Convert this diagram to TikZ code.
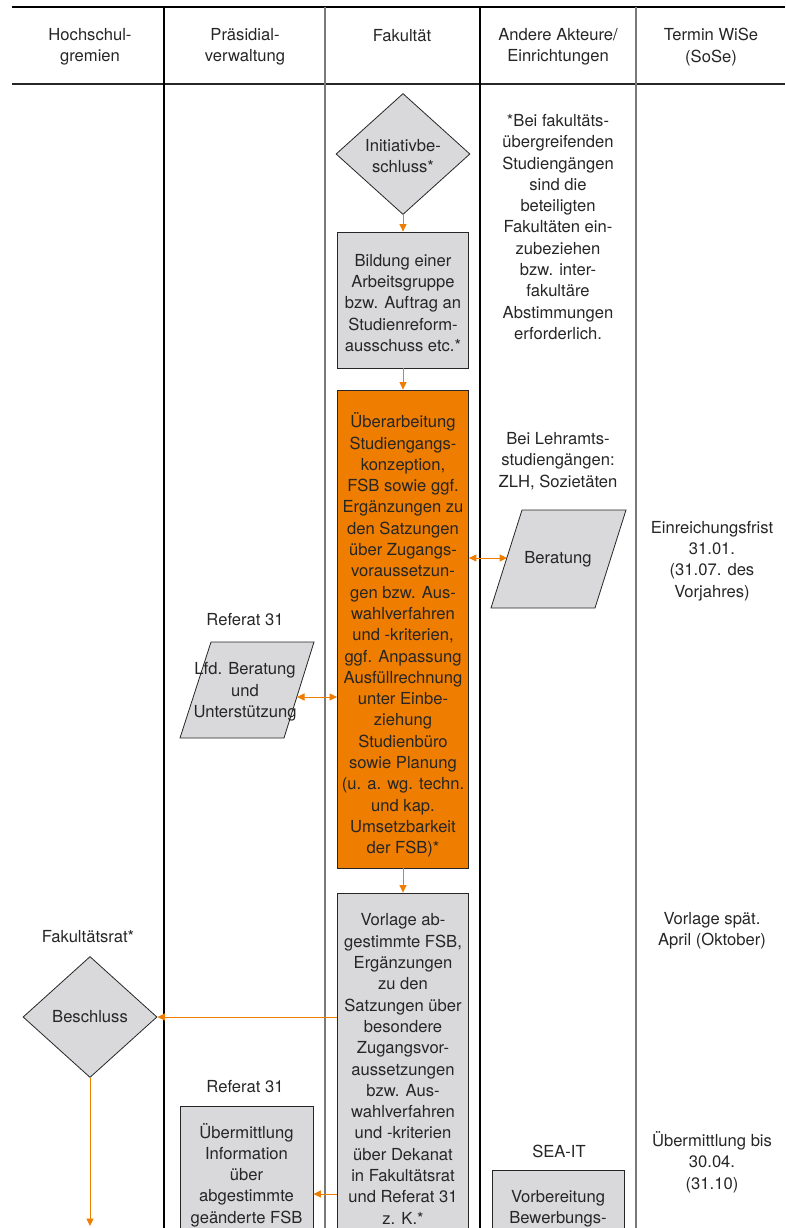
\documentclass[tikz,border=0pt]{standalone}
\usepackage{fontspec}
\setmainfont{TeX Gyre Heros}
\usetikzlibrary{arrows.meta,shapes.geometric}
\definecolor{ink}{HTML}{262626}
\definecolor{boxgray}{HTML}{D9D9DB}
\definecolor{uhhorange}{HTML}{EE7D00}
\definecolor{rulegray}{HTML}{7A7A7A}
\begin{document}
\begin{tikzpicture}[x=1pt,y=-1pt,
  every node/.style={text=ink, font=\fontsize{16.6}{21.3}\selectfont, align=center, inner sep=0pt},
  procbox/.style={draw=ink, line width=0.8pt, fill=boxgray, minimum width=131pt},
  hotbox/.style={procbox, fill=uhhorange},
  decision/.style={diamond, draw=ink, line width=0.8pt, fill=boxgray,
    minimum width=134pt, minimum height=121pt, aspect=1.1},
  io/.style={draw=ink, line width=0.8pt, fill=boxgray},
  flow/.style={draw=uhhorange, line width=1pt, -{Triangle[length=7.5pt,width=7pt]}},
  both/.style={draw=uhhorange, line width=1pt,
    {Triangle[length=7.5pt,width=7pt]}-{Triangle[length=7.5pt,width=7pt]}},
  darkrule/.style={draw=black, line width=1.2pt},
  lightrule/.style={draw=rulegray, line width=1.8pt},
]
\useasboundingbox (0,0) rectangle (785,1228);
\clip (0,0) rectangle (785,1228);

% swimlane grid
\draw[darkrule] (12,7) -- (785,7);
\draw[draw=ink, line width=1.4pt] (12,84) -- (785,84);
\draw[darkrule] (164,7) -- (164,1228);
\draw[lightrule] (325,7) -- (325,1228);
\draw[darkrule] (480,7) -- (480,1228);
\draw[lightrule] (636,7) -- (636,1228);

% lane headings
\node (h1) at (90,47) {Hochschul-\\gremien};
\node (h2) at (245,47) {Präsidial-\\verwaltung};
\node (h3) at (402,36) {Fakultät};
\node (h4) at (558,47) {Andere Akteure/\\Einrichtungen};
\node (h5) at (711,47) {Termin WiSe\\(SoSe)};

% Fakultaet lane
\node[decision, label={[yshift=-2pt]center:{Initiativbe-\\schluss*}}] (init) at (403,154) {};
\node[procbox, minimum height=136pt,
  label={[yshift=-3pt]center:{Bildung einer\\Arbeitsgruppe\\bzw. Auftrag an\\Studienreform-\\ausschuss etc.*}}]
  (ag) at (403,300) {};
\node[hotbox, minimum height=478pt,
  label={[yshift=-6pt]center:{Überarbeitung\\Studiengangs-\\konzeption,\\FSB sowie ggf.\\Ergänzungen zu\\den Satzungen\\über Zugangs-\\voraussetzun-\\gen bzw. Aus-\\wahlverfahren\\und -kriterien,\\ggf. Anpassung\\Ausfüllrechnung\\unter Einbe-\\ziehung\\Studienbüro\\sowie Planung\\(u. a. wg. techn.\\und kap.\\Umsetzbarkeit\\der FSB)*}}]
  (ueb) at (403,629) {};
\node[procbox, minimum height=344pt,
  label={[yshift=-4pt]center:{Vorlage ab-\\gestimmte FSB,\\Ergänzungen\\zu den\\Satzungen über\\besondere\\Zugangsvor-\\aussetzungen\\bzw. Aus-\\wahlverfahren\\und -kriterien\\über Dekanat\\in Fakultätsrat\\und Referat 31\\z. K.*}}]
  (vorl) at (403,1065) {};
\draw[flow] (init.south) -- (ag.north);
\draw[flow] (ag.south) -- (ueb.north);
\draw[flow] (ueb.south) -- (vorl.north);

% other actors lane
\node (note) at (558,227)
  {*Bei fakultäts-\\übergreifenden\\Studiengängen\\sind die\\beteiligten\\Fakultäten ein-\\zubeziehen\\bzw. inter-\\fakultäre\\Abstimmungen\\erforderlich.};
\node (lehr) at (558,461) {Bei Lehramts-\\studiengängen:\\ZLH, Sozietäten};
\coordinate (b1) at (491,608);
\coordinate (b2) at (595,608);
\coordinate (b3) at (626,510);
\coordinate (b4) at (522,510);
\draw[io] (b1) -- (b2) -- (b3) -- (b4) -- cycle;
\node (ber) at (558,559) {Beratung};
\coordinate (berL) at (507,558);
\draw[both] (ueb.east |- berL) -- (berL);

\node (sea) at (559,1151) {SEA-IT};
\node[procbox, minimum width=132pt, minimum height=74pt,
  label={[yshift=-2pt]center:{Vorbereitung\\Bewerbungs-}}] (vb) at (558,1207) {};

% administration lane
\node (ref1) at (245,620) {Referat 31};
\coordinate (l1) at (180,738);
\coordinate (l2) at (284,738);
\coordinate (l3) at (314,642);
\coordinate (l4) at (211,642);
\draw[io] (l1) -- (l2) -- (l3) -- (l4) -- cycle;
\node (lfd) at (245,692) {Lfd. Beratung\\und\\Unterstützung};
\coordinate (lfdR) at (297,697);
\draw[both] (lfdR) -- (ueb.west |- lfdR);

\node (ref2) at (245,1087) {Referat 31};
\node[procbox, minimum width=133pt, minimum height=138pt] (uebm) at (246.5,1175)
  {Übermittlung\\Information\\über\\abgestimmte\\geänderte FSB};
\coordinate (v2u) at (337,1194);
\draw[flow] (vorl.west |- v2u) -- (uebm.east |- v2u);

% university bodies lane
\node (frat) at (88,937) {Fakultätsrat*};
\node[decision] (besch) at (90,1017) {Beschluss};
\draw[flow] (besch.east -| vorl.west) -- (besch.east);
\coordinate (down) at (90,1226);
\draw[flow] (besch.south) -- (down);

% dates lane
\node (t1) at (712,561) {Einreichungsfrist\\31.01.\\(31.07. des\\Vorjahres)};
\node (t2) at (712,931) {Vorlage spät.\\April (Oktober)};
\node (t3) at (712,1162) {Übermittlung bis\\30.04.\\(31.10)};
\end{tikzpicture}
\end{document}
